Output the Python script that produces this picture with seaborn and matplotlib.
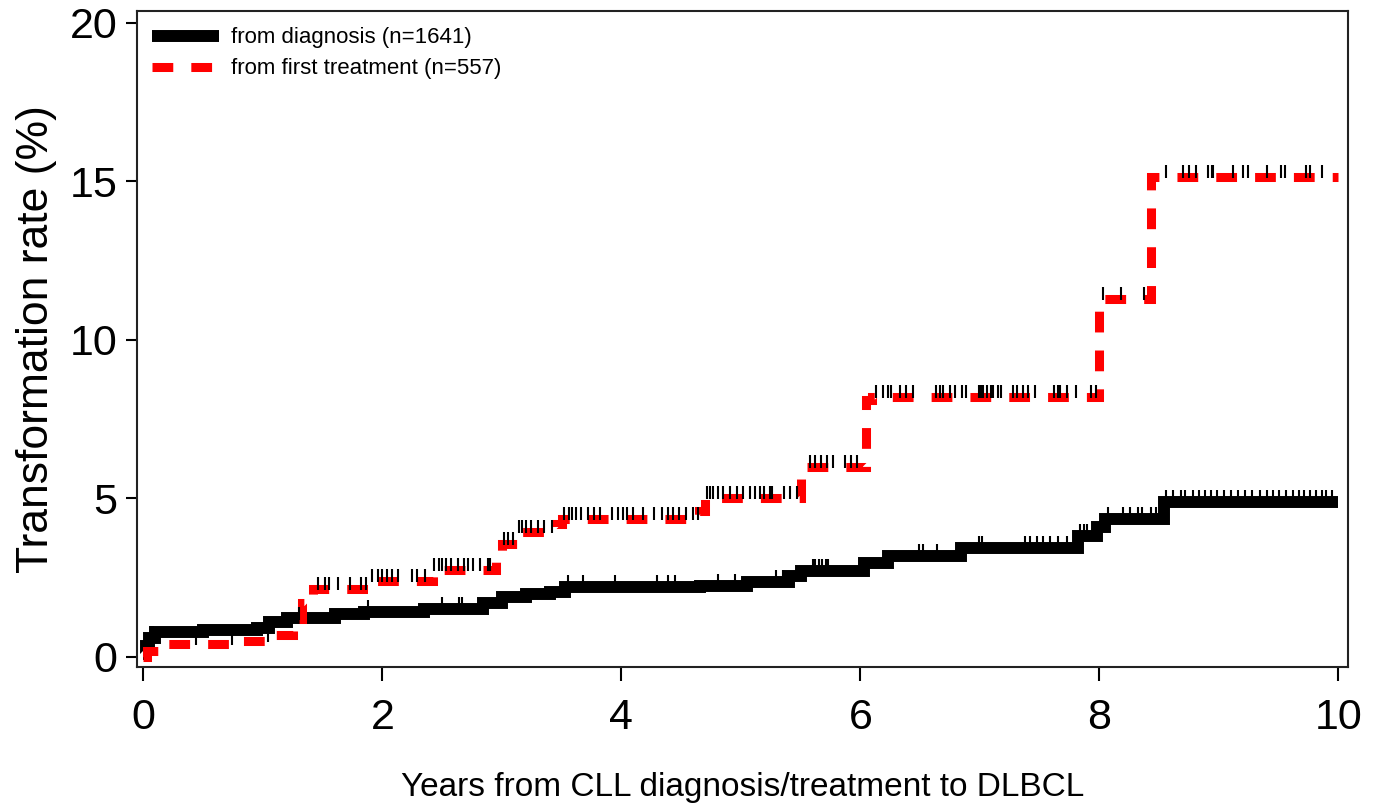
"""Cumulative DLBCL transformation rate, from diagnosis vs from first treatment."""

import matplotlib

matplotlib.use("Agg", force=True)

import matplotlib.pyplot as plt
import numpy as np
import pandas as pd
import seaborn as sns
from matplotlib.path import Path

# step times (years) and cumulative rate (%)
diag_years = [0.0, 0.02, 0.05, 0.10, 0.50, 0.95, 1.05, 1.20, 1.60, 1.85, 2.35,
              2.84, 3.00, 3.20, 3.40, 3.53, 4.66, 5.05, 5.40, 5.50, 6.03, 6.23,
              6.84, 7.82, 7.98, 8.05, 8.54, 10.0]
diag_rate = [0.1, 0.35, 0.6, 0.8, 0.85, 0.9, 1.1, 1.23, 1.35, 1.42, 1.5,
             1.7, 1.88, 1.99, 2.05, 2.2, 2.25, 2.37, 2.55, 2.7, 2.96, 3.2,
             3.45, 3.8, 4.1, 4.35, 4.9, 4.9]

treat_years = [0.0, 0.03, 0.15, 0.80, 1.10, 1.25, 1.33, 1.42, 1.90, 2.42,
               2.95, 3.00, 3.13, 3.45, 3.50, 4.65, 4.70, 5.50, 5.55, 6.05,
               6.10, 8.00, 8.43, 10.0]
treat_rate = [0.0, 0.2, 0.4, 0.5, 0.7, 1.2, 1.7, 2.15, 2.4, 2.75,
              3.2, 3.55, 3.95, 4.2, 4.35, 4.6, 5.0, 5.8, 6.0, 8.1,
              8.2, 11.3, 15.15, 15.15]

# censoring times (years)
diag_censor = [0.03, 0.06, 0.08, 1.88, 2.50, 2.64, 2.67, 3.55, 3.68, 3.95,
               4.30, 4.39, 4.45, 4.81, 4.95, 5.29, 5.35, 5.60, 5.62, 5.65,
               5.68, 5.71, 5.73, 6.49, 6.52, 6.64, 6.99, 7.02, 7.38, 7.42,
               7.48, 7.53, 7.59, 7.65, 7.73, 7.84, 7.87, 7.90, 8.07, 8.20,
               8.26, 8.32, 8.36, 8.43, 8.47, 8.56, 8.62, 8.68, 8.72, 8.78,
               8.83, 8.88, 8.93, 8.98, 9.04, 9.10, 9.16, 9.22, 9.28, 9.34,
               9.40, 9.45, 9.50, 9.56, 9.62, 9.67, 9.71, 9.76, 9.81, 9.86,
               9.90, 9.95]
treat_censor = [0.44, 0.74, 1.04, 1.30, 1.46, 1.52, 1.55, 1.63, 1.73, 1.82,
                1.86, 1.91, 1.96, 2.00, 2.04, 2.08, 2.13, 2.25, 2.29, 2.36,
                2.43, 2.47, 2.50, 2.53, 2.57, 2.63, 2.68, 2.72, 2.76, 2.82,
                2.88, 2.90, 3.02, 3.05, 3.09, 3.14, 3.17, 3.20, 3.24, 3.30,
                3.35, 3.42, 3.52, 3.56, 3.59, 3.62, 3.66, 3.72, 3.77, 3.82,
                3.92, 3.97, 4.01, 4.05, 4.10, 4.18, 4.27, 4.34, 4.39, 4.43,
                4.48, 4.54, 4.60, 4.64, 4.72, 4.74, 4.77, 4.81, 4.85, 4.91,
                4.97, 5.02, 5.08, 5.12, 5.16, 5.19, 5.24, 5.26, 5.36, 5.41,
                5.47, 5.58, 5.62, 5.67, 5.72, 5.77, 5.87, 5.92, 5.97, 6.13,
                6.19, 6.23, 6.26, 6.33, 6.38, 6.44, 6.63, 6.67, 6.69, 6.75,
                6.79, 6.85, 6.88, 6.99, 7.01, 7.03, 7.06, 7.09, 7.11, 7.15,
                7.18, 7.28, 7.31, 7.36, 7.40, 7.46, 7.62, 7.65, 7.67, 7.73,
                7.80, 7.93, 7.97, 8.03, 8.18, 8.37, 8.56, 8.70, 8.75, 8.81,
                8.91, 8.94, 8.95, 9.12, 9.20, 9.24, 9.40, 9.52, 9.55, 9.73,
                9.76, 9.86]

labels = ["from diagnosis (n=1641)", "from first treatment (n=557)"]
x_ticks = [0, 2, 4, 6, 8, 10]
y_ticks = [0, 5, 10, 15, 20]

sns.set_theme(style="ticks")
plt.rcParams["font.family"] = ["Liberation Sans", "DejaVu Sans"]
plt.rcParams["lines.solid_capstyle"] = "butt"
plt.rcParams["text.color"] = "black"
plt.rcParams["axes.labelcolor"] = "black"


def censor_frame(times, step_x, step_y):
    idx = np.searchsorted(step_x, times, side="right") - 1
    return pd.DataFrame({"t": times, "y": np.asarray(step_y)[idx]})


# censor tick: a short vertical bar sitting on top of the curve
tick = Path([(0, -0.1), (0, 1.0)], [Path.MOVETO, Path.LINETO])

fig = plt.figure(figsize=(13.78, 8.07), dpi=100)
ax = fig.add_axes([0.0994, 0.1735, 0.8788, 0.8129])

diag_df = pd.DataFrame({"t": diag_years, "y": diag_rate})
treat_df = pd.DataFrame({"t": treat_years, "y": treat_rate})

sns.lineplot(data=diag_df, x="t", y="y", ax=ax, estimator=None, errorbar=None,
             drawstyle="steps-post", color="black", linewidth=8.6,
             solid_joinstyle="miter", solid_capstyle="butt",
             label=labels[0], zorder=2)
sns.scatterplot(data=censor_frame(diag_censor, diag_years, diag_rate), x="t", y="y",
                ax=ax, marker=tick, s=300, color="black", edgecolor="black",
                linewidth=1.5, zorder=3)
sns.lineplot(data=treat_df, x="t", y="y", ax=ax, estimator=None, errorbar=None,
             drawstyle="steps-post", color="#ff0000", linewidth=6.5,
             dashes=(2.3, 2.0), dash_capstyle="butt", dash_joinstyle="miter",
             label=labels[1], zorder=4)
sns.scatterplot(data=censor_frame(treat_censor, treat_years, treat_rate), x="t", y="y",
                ax=ax, marker=tick, s=300, color="black", edgecolor="black",
                linewidth=1.5, zorder=5)

ax.set_xlim(-0.054, 10.08)
ax.set_ylim(-0.315, 20.37)
ax.set_xticks(x_ticks)
ax.set_yticks(y_ticks)
ax.tick_params(axis="both", direction="out", width=1.5, colors="black",
               labelsize=31)
ax.tick_params(axis="x", length=10, pad=12)
ax.tick_params(axis="y", length=8, pad=6)
for spine in ax.spines.values():
    spine.set_visible(True)
    spine.set_linewidth(1.5)
    spine.set_color("#222222")

ax.set_xlabel("Years from CLL diagnosis/treatment to DLBCL", fontsize=24,
              labelpad=25)
ax.set_ylabel("Transformation rate (%)", fontsize=32, labelpad=9)

ax.legend(loc="upper left", bbox_to_anchor=(0.0125, 0.975), frameon=False,
          prop={"size": 16}, handlelength=3.0, handletextpad=0.55,
          borderpad=0, borderaxespad=0, labelspacing=0.45)

fig.savefig("out.png", dpi=100)
plt.close(fig)
